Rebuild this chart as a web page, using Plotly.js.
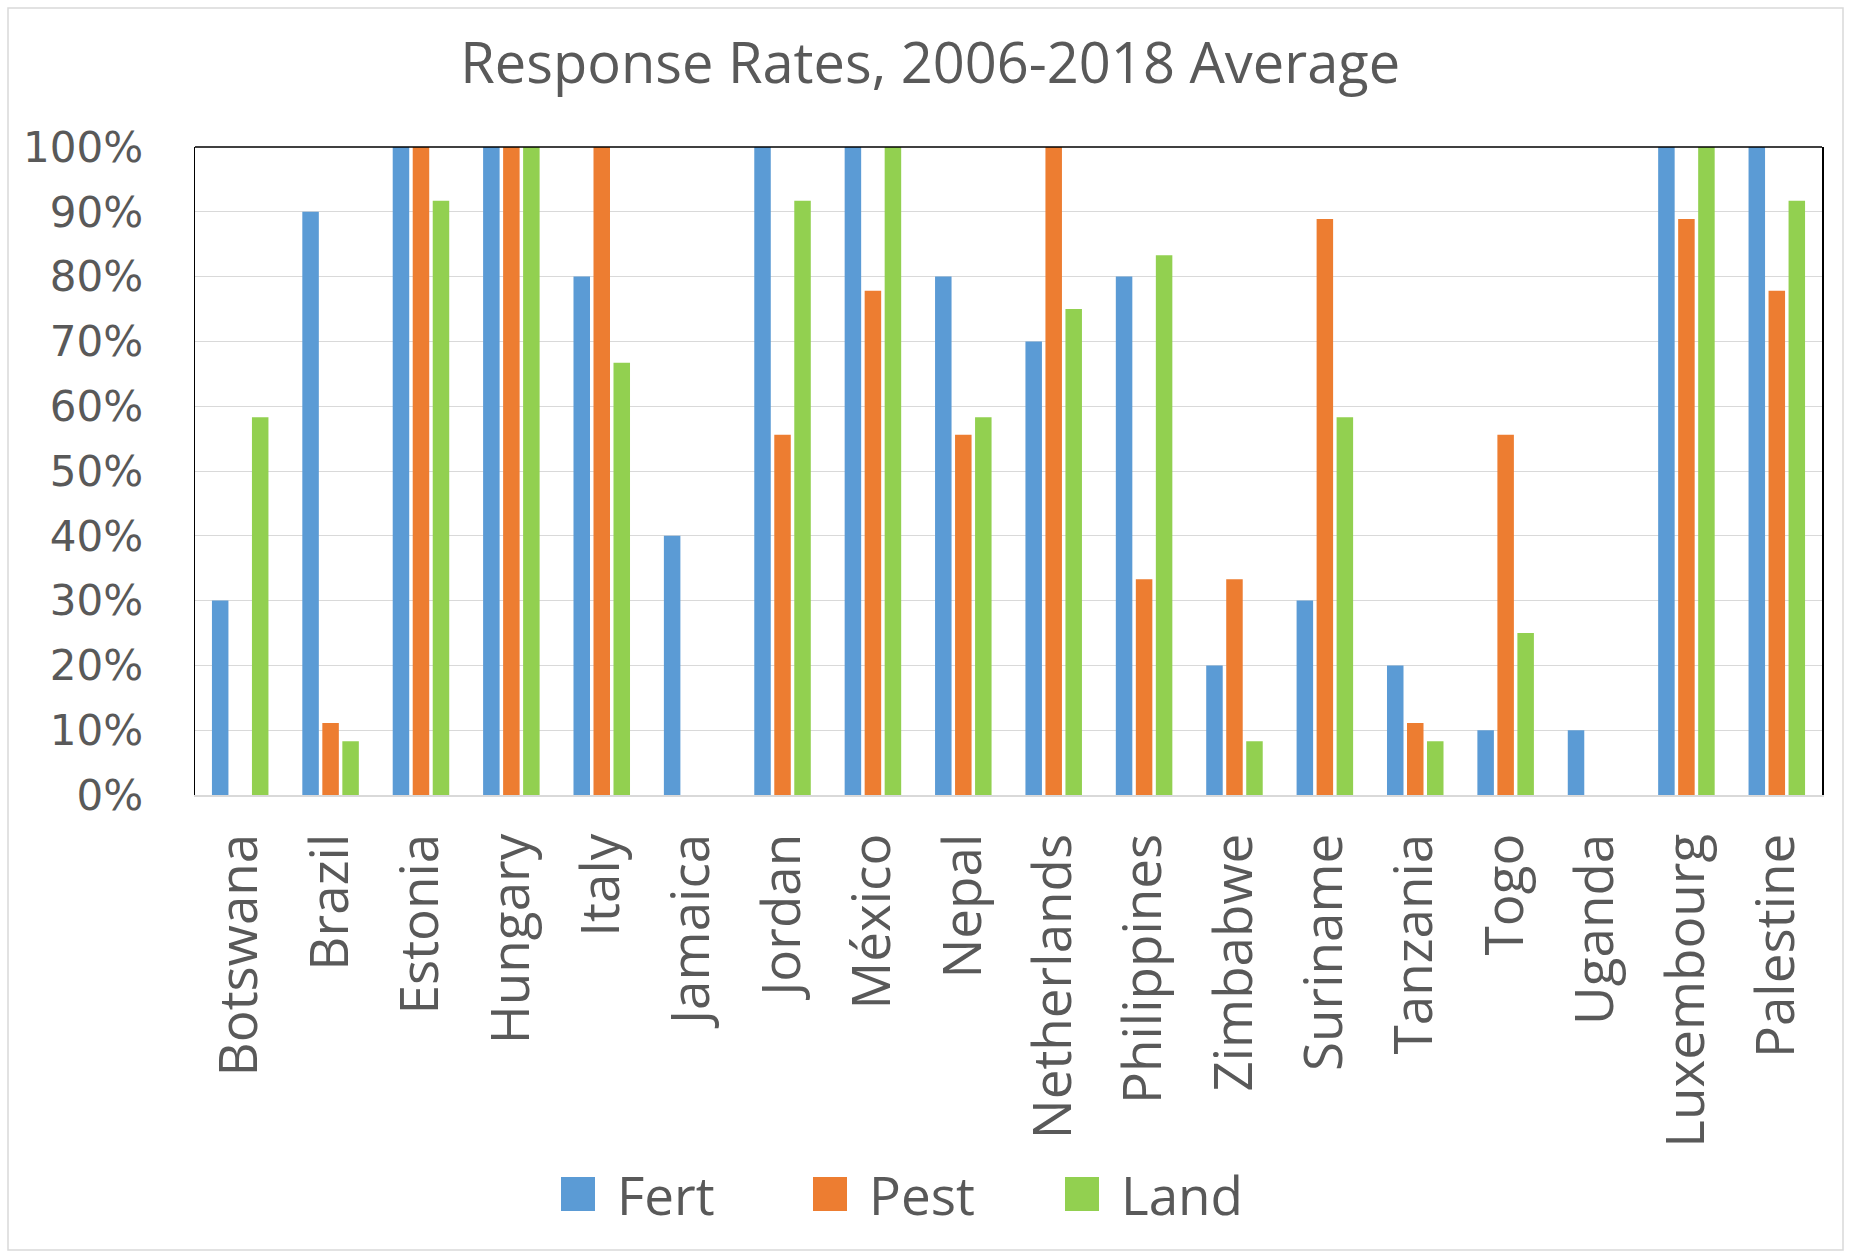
<!DOCTYPE html>
<html>
<head>
<meta charset="utf-8">
<script src="https://cdn.plot.ly/plotly-3.0.1.min.js"></script>
<style>
  html, body { margin: 0; padding: 0; background: #ffffff; }
  #chart { width: 1853px; height: 1254px; }
</style>
</head>
<body>
<div id="chart"></div>
<script>
// ---- Data ----
const countries = ["Botswana","Brazil","Estonia","Hungary","Italy","Jamaica","Jordan","México","Nepal","Netherlands","Philippines","Zimbabwe","Suriname","Tanzania","Togo","Uganda","Luxembourg","Palestine"];
const fert = [0.30, 0.90, 1.00, 1.00, 0.80, 0.40, 1.00, 1.00, 0.80, 0.70, 0.80, 0.20, 0.30, 0.20, 0.10, 0.10, 1.00, 1.00];
const pest = [0.000, 0.111, 1.000, 1.000, 1.000, 0.000, 0.556, 0.778, 0.556, 1.000, 0.333, 0.333, 0.889, 0.111, 0.556, 0.000, 0.889, 0.778];
const land = [0.583, 0.083, 0.917, 1.000, 0.667, 0.000, 0.917, 1.000, 0.583, 0.750, 0.833, 0.083, 0.583, 0.083, 0.250, 0.000, 1.000, 0.917];
const seriesNames = ["Fert", "Pest", "Land"];
const yTickVals = [0, 0.1, 0.2, 0.3, 0.4, 0.5, 0.6, 0.7, 0.8, 0.9, 1.0];
const yTickText = ["0%","10%","20%","30%","40%","50%","60%","70%","80%","90%","100%"];
const titleText = "Response Rates, 2006-2018 Average";

// ---- Styles ----
const colors = ["#5b9bd5", "#ed7d31", "#92d050"];
const textColor = "#595959";
const W = 1853, H = 1254;
const M = { l: 195, r: 31, t: 147, b: 459 };
const pw = W - M.l - M.r, ph = H - M.t - M.b;
const px = v => (v - M.l) / pw;          // page x -> paper x
const py = v => (H - M.b - v) / ph;      // page y -> paper y

const values = [fert, pest, land];
const traces = values.map((vals, i) => ({
  type: "bar",
  name: seriesNames[i],
  x: countries,
  y: vals,
  marker: { color: colors[i], line: { width: 0 } },
  hoverinfo: "x+y+name"
}));

const layout = {
  width: W, height: H,
  margin: M,
  paper_bgcolor: "#ffffff",
  plot_bgcolor: "#ffffff",
  barmode: "group",
  bargap: 0.336,
  bargroupgap: 0.175,
  title: {
    text: titleText,
    font: { family: "Open Sans", size: 56, color: textColor },
    x: 0.502, xanchor: "center",
    y: 1 - 63 / H, yanchor: "middle",
    yref: "container", xref: "container"
  },
  xaxis: {
    type: "category",
    tickangle: -90,
    tickfont: { family: "Open Sans", size: 53, color: textColor },
    showline: true, linecolor: "#d9d9d9", linewidth: 1.5,
    showgrid: false,
    ticks: "",
    ticklabelstandoff: 16,
    automargin: false,
    fixedrange: true
  },
  yaxis: {
    range: [0, 1],
    tickvals: yTickVals,
    ticktext: yTickText,
    tickfont: { family: "DejaVu Sans", size: 42, color: textColor },
    showgrid: true, gridcolor: "#d9d9d9", gridwidth: 1,
    showline: true, linecolor: "#000000", linewidth: 1.5, mirror: true,
    zeroline: false,
    ticks: "",
    ticklabelstandoff: 42,
    automargin: false,
    fixedrange: true
  },
  legend: {
    orientation: "h",
    x: px(539), xanchor: "left",
    y: py(1194), yanchor: "middle",
    font: { family: "Open Sans", size: 53, color: textColor },
    itemwidth: 68,
    entrywidth: 169,
    entrywidthmode: "pixels",
    bgcolor: "rgba(0,0,0,0)",
    traceorder: "normal"
  },
  shapes: [
    { type: "line", xref: "paper", yref: "paper", x0: 0, x1: 1, y0: 1, y1: 1,
      line: { color: "#000000", width: 1.5 } },
    { type: "rect", xref: "paper", yref: "paper",
      x0: px(8), x1: px(1843), y0: py(1250), y1: py(8),
      line: { color: "#d9d9d9", width: 1.5 }, fillcolor: "rgba(0,0,0,0)", layer: "below" }
  ],
  showlegend: true
};

Plotly.newPlot("chart", traces, layout, { staticPlot: true, displayModeBar: false }).then(gd => {
  // enlarge legend swatches to match the reference's large squares
  gd.querySelectorAll(".legend .traces .legendpoints path").forEach(p => {
    p.setAttribute("d", "M17,17H-17V-17H17Z");
  });
});
</script>
</body>
</html>
